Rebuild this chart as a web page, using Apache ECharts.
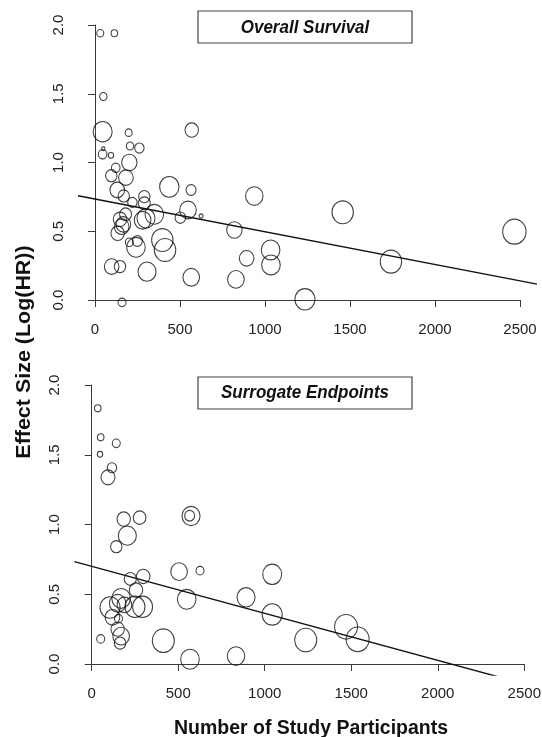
<!DOCTYPE html>
<html><head><meta charset="utf-8">
<script src="https://cdn.jsdelivr.net/npm/echarts@6/dist/echarts.min.js"></script>
<style>html,body{margin:0;padding:0;background:#fff}#c{width:542px;height:737px}</style>
</head><body><div id="c"></div>
<script>
// ---- data ----
const panelTitles = ['Overall Survival', 'Surrogate Endpoints'];
const xTitle = 'Number of Study Participants';
const yTitle = 'Effect Size (Log(HR))';
const xTicks = [0, 500, 1000, 1500, 2000, 2500];
const yTicks = [0.0, 0.5, 1.0, 1.5, 2.0];

// Overall survival: participants, effect size, relative study weight
const osN  = [31,114,49,45,198,569,49,45,94,206,261,202,122,96,182,131,169,437,565,290,220,290,547,502,624,349,180,147,300,280,167,157,133,202,249,241,396,412,98,147,306,566,159,820,892,829,937,1033,1035,1235,1457,1741,2467];
const osES = [1.94,1.94,1.48,1.224,1.217,1.236,1.10,1.06,1.052,1.12,1.105,1.00,0.962,0.904,0.89,0.80,0.757,0.823,0.80,0.752,0.71,0.703,0.655,0.599,0.611,0.623,0.623,0.587,0.594,0.58,0.55,0.533,0.485,0.42,0.429,0.383,0.436,0.364,0.243,0.243,0.206,0.165,-0.017,0.509,0.303,0.15,0.756,0.364,0.255,0.005,0.638,0.279,0.497];
const osWt = [3.5,3.3,3.7,9.5,3.5,6.7,1.7,4.3,2.7,3.7,4.7,7.7,4.3,5.7,7.3,7.3,5.7,9.7,5,5.7,4.7,6,8.3,5.3,2,9.3,6,6.7,9,8.3,7.3,7.3,6.7,4,5,9.3,10.7,10.7,7.3,5.7,9,8.3,4,7.7,7.3,8.3,8.7,9.3,9.3,10,10.7,10.7,11.7];
const osFit = [0.734, -0.000238]; // intercept, slope

// Surrogate endpoints
const seN  = [35,52,142,48,117,94,185,277,206,574,566,142,505,626,223,298,256,549,106,170,150,189,250,294,120,155,150,170,164,52,414,568,834,892,1043,1043,1237,1470,1537];
const seES = [1.833,1.625,1.582,1.503,1.407,1.338,1.039,1.049,0.92,1.061,1.063,0.841,0.662,0.669,0.610,0.628,0.53,0.464,0.405,0.47,0.435,0.423,0.41,0.41,0.335,0.325,0.25,0.2,0.15,0.18,0.167,0.034,0.057,0.478,0.643,0.355,0.172,0.267,0.177];
const seWt = [3.3,3.3,4,2.7,4.7,7,6.7,6.3,9,9,5,5.7,8.3,4,6,6.7,6.7,9.3,10,9.3,8.3,7.3,10,10,7.3,4,6.7,8.3,5.7,4,11,9.3,8.7,9,9.5,10,11,11.5,11.5];
const seFit = [0.700, -0.000337];

// ---- layout ----
const FONT = '"Liberation Sans", Arial, Helvetica, sans-serif';
const xMin = xTicks[0], xMax = xTicks[xTicks.length - 1];
const yMin = yTicks[0], yMax = yTicks[yTicks.length - 1];
const xPad = (xMax - xMin) * 0.04, yPad = (yMax - yMin) * 0.04;
const panels = [
  {left: 95, top: 25, width: 425, height: 275},
  {left: 91.7, top: 385, width: 432.6, height: 279}
];

const grids = [], xAxes = [], yAxes = [], series = [];
const axisColor = '#3a3a3a';
function addPanel(i, N, ES, W, fit) {
  const p = panels[i];
  const sx = p.width / (xMax - xMin), sy = p.height / (yMax - yMin);
  const pl = p.left - xPad * sx, pt = p.top - yPad * sy;
  const pw = p.width + 2 * xPad * sx, ph = p.height + 2 * yPad * sy;
  const gP = grids.length;
  grids.push({left: pl, top: pt, width: pw, height: ph, containLabel: false, outerBoundsMode: 'none'});
  xAxes.push({gridIndex: gP, type: 'value', min: xMin - xPad, max: xMax + xPad, show: false});
  yAxes.push({gridIndex: gP, type: 'value', min: yMin - yPad, max: yMax + yPad, show: false});
  const gA = grids.length;
  grids.push({left: p.left, top: p.top, width: p.width, height: p.height, containLabel: false, outerBoundsMode: 'none'});
  xAxes.push({gridIndex: gA, type: 'value', min: xMin, max: xMax, interval: 500,
    offset: yPad * sy,
    axisLine: {show: true, lineStyle: {color: axisColor, width: 1}},
    axisTick: {show: true, length: 7, lineStyle: {color: axisColor, width: 1}},
    axisLabel: {fontSize: 15, color: '#222', fontFamily: FONT, margin: 11,
      formatter: v => String(v)},
    splitLine: {show: false}});
  yAxes.push({gridIndex: gA, type: 'value', min: yMin, max: yMax, interval: 0.5,
    offset: xPad * sx,
    axisLine: {show: true, lineStyle: {color: axisColor, width: 1}},
    axisTick: {show: true, length: 7, lineStyle: {color: axisColor, width: 1}},
    axisLabel: {fontSize: 15, color: '#222', fontFamily: FONT, margin: 12, rotate: 90,
      formatter: v => v.toFixed(1)},
    splitLine: {show: false}});
  series.push({
    type: 'scatter', xAxisIndex: gP, yAxisIndex: gP, clip: true,
    data: N.map((n, k) => [n, ES[k], W[k]]),
    symbol: 'circle',
    symbolSize: v => [v[2] * 2, v[2] * 2 * 1.07],
    itemStyle: {color: 'rgba(0,0,0,0)', borderColor: '#111', borderWidth: 1.1},
    emphasis: {disabled: true}, silent: true
  });
  const x0 = xMin - xPad, x1 = xMax + xPad;
  series.push({
    type: 'line', xAxisIndex: gP, yAxisIndex: gP, clip: true, showSymbol: false,
    data: [[x0, fit[0] + fit[1] * x0], [x1, fit[0] + fit[1] * x1]],
    lineStyle: {color: '#111', width: 1.4}, silent: true
  });
}
addPanel(0, osN, osES, osWt, osFit);
addPanel(1, seN, seES, seWt, seFit);

const graphic = [
  {type: 'rect', shape: {x: 198, y: 11, width: 214, height: 32}, style: {fill: 'none', stroke: '#444', lineWidth: 1.2}},
  {type: 'text', x: 305, y: 28, scaleY: 1.08, style: {text: panelTitles[0], font: 'italic bold 17px ' + FONT, fill: '#111', textAlign: 'center', textVerticalAlign: 'middle'}},
  {type: 'rect', shape: {x: 198, y: 377, width: 214, height: 32}, style: {fill: 'none', stroke: '#444', lineWidth: 1.2}},
  {type: 'text', x: 305, y: 393, scaleY: 1.08, style: {text: panelTitles[1], font: 'italic bold 17px ' + FONT, fill: '#111', textAlign: 'center', textVerticalAlign: 'middle'}},
  {type: 'text', x: 25, y: 352, rotation: Math.PI / 2, scaleX: 1.1, style: {text: yTitle, font: 'bold 19.5px ' + FONT, fill: '#111', textAlign: 'center', textVerticalAlign: 'middle'}},
  {type: 'text', x: 311, y: 728, scaleY: 1.08, style: {text: xTitle, font: 'bold 19.5px ' + FONT, fill: '#111', textAlign: 'center', textVerticalAlign: 'middle'}}
];

const chart = echarts.init(document.getElementById('c'), null, {renderer: 'canvas'});
chart.setOption({
  animation: false,
  backgroundColor: '#fff',
  grid: grids, xAxis: xAxes, yAxis: yAxes, series: series, graphic: graphic
});
</script></body></html>
